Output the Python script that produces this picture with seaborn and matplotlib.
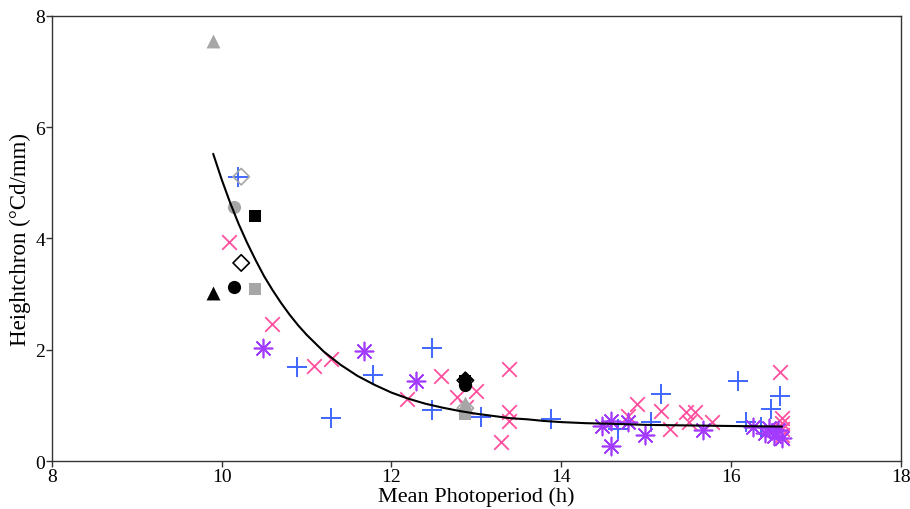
import matplotlib
matplotlib.use('Agg')
import matplotlib.pyplot as plt
import seaborn as sns

# Blue plus points
plus_x = [10.19, 10.89, 11.29, 11.78, 12.48, 12.48, 13.06, 13.88, 14.67, 15.06, 15.17,
          16.08, 16.58, 16.47, 16.17, 16.35]
plus_y = [5.11, 1.69, 0.77, 1.55, 2.03, 0.92, 0.79, 0.76, 0.58, 0.70, 1.20,
          1.43, 1.17, 0.94, 0.70, 0.61]

# Pink cross points
cross_x = [10.09, 10.59, 11.09, 11.29, 12.18, 12.58, 12.77, 12.99, 12.88, 13.38, 13.38, 13.38,
           13.29, 14.89, 14.79, 15.18, 15.28, 15.47, 15.58, 15.50, 15.77,
           16.58, 16.60, 16.60, 16.60, 16.60, 16.60]
cross_y = [3.94, 2.46, 1.71, 1.83, 1.12, 1.53, 1.15, 1.26, 0.97, 1.65, 0.88, 0.72,
           0.34, 1.03, 0.81, 0.90, 0.58, 0.88, 0.88, 0.70, 0.70,
           1.60, 0.78, 0.68, 0.57, 0.47, 0.42]

# Purple asterisk points
star_x = [10.49, 11.68, 12.29, 14.48, 14.58, 14.58, 14.79, 14.99, 15.67,
          16.26, 16.40, 16.45, 16.50, 16.55, 16.60]
star_y = [2.03, 1.98, 1.44, 0.63, 0.72, 0.27, 0.70, 0.46, 0.55,
          0.61, 0.50, 0.60, 0.45, 0.55, 0.42]

# Black markers
blk_tri_x = [9.90, 12.87]
blk_tri_y = [3.02, 1.50]
blk_circ_x = [10.14, 12.87]
blk_circ_y = [3.13, 1.37]
blk_sq_x = [10.39, 12.87]
blk_sq_y = [4.41, 1.43]
blk_dia_x = [12.87]
blk_dia_y = [1.47]
blk_open_x = [10.23, 12.87]
blk_open_y = [3.56, 1.45]

# Grey markers
gry_tri_x = [9.90, 12.87]
gry_tri_y = [7.55, 1.05]
gry_circ_x = [10.14, 12.87]
gry_circ_y = [4.57, 0.88]
gry_sq_x = [10.39, 12.87]
gry_sq_y = [3.09, 0.85]
gry_open_x = [10.23, 12.87]
gry_open_y = [5.11, 0.95]

# Fitted curve
curve_x = [9.9, 10.0, 10.1, 10.2, 10.3, 10.4, 10.5, 10.6, 10.7, 10.8, 10.9, 11.0,
           11.2, 11.4, 11.6, 11.8, 12.0, 12.2, 12.4, 12.6, 12.8, 13.0, 13.2, 13.4,
           13.6, 13.8, 14.0, 14.3, 14.6, 15.0, 15.5, 16.0, 16.6]
curve_y = [5.52, 5.06, 4.64, 4.26, 3.92, 3.61, 3.32, 3.07, 2.84, 2.63, 2.44, 2.27,
           1.97, 1.73, 1.53, 1.37, 1.23, 1.12, 1.03, 0.96, 0.90, 0.85, 0.81, 0.77,
           0.75, 0.72, 0.70, 0.68, 0.67, 0.65, 0.64, 0.63, 0.62]

sns.set_style('ticks')
plt.rcParams['font.family'] = ['Liberation Serif', 'DejaVu Serif']

fig = plt.figure(figsize=(9.1, 5.1), dpi=100)
ax = fig.add_axes([0.057, 0.094, 0.933, 0.873])

blue = '#3F66FF'
pink = '#FF4F9E'
purple = '#A23BFF'
grey = '#A6A6A6'

sns.lineplot(x=curve_x, y=curve_y, color='black', linewidth=1.5, ax=ax)

sns.scatterplot(x=plus_x, y=plus_y, marker='+', s=190, color=blue, linewidth=1.4, ax=ax)
sns.scatterplot(x=cross_x, y=cross_y, marker='x', s=110, color=pink, linewidth=1.3, ax=ax)
sns.scatterplot(x=star_x, y=star_y, marker=(8, 2, 0), s=170, color=purple, linewidth=1.2, ax=ax)

sns.scatterplot(x=gry_tri_x, y=gry_tri_y, marker='^', s=100, color=grey, linewidth=0, ax=ax)
sns.scatterplot(x=gry_circ_x, y=gry_circ_y, marker='o', s=90, color=grey, linewidth=0, ax=ax)
sns.scatterplot(x=gry_sq_x, y=gry_sq_y, marker='s', s=80, color=grey, linewidth=0, ax=ax)
sns.scatterplot(x=gry_open_x, y=gry_open_y, marker='D', s=70, facecolor='none',
                edgecolor=grey, linewidth=1.2, ax=ax)

sns.scatterplot(x=blk_tri_x, y=blk_tri_y, marker='^', s=100, color='black', linewidth=0, ax=ax)
sns.scatterplot(x=blk_circ_x, y=blk_circ_y, marker='o', s=90, color='black', linewidth=0, ax=ax)
sns.scatterplot(x=blk_sq_x, y=blk_sq_y, marker='s', s=80, color='black', linewidth=0, ax=ax)
sns.scatterplot(x=blk_dia_x, y=blk_dia_y, marker='D', s=60, color='black', linewidth=0, ax=ax)
sns.scatterplot(x=blk_open_x, y=blk_open_y, marker='D', s=70, facecolor='none',
                edgecolor='black', linewidth=1.2, ax=ax)

ax.set_xlim(8, 18)
ax.set_ylim(0, 8)
ax.set_xticks([8, 10, 12, 14, 16, 18])
ax.set_yticks([0, 2, 4, 6, 8])
ax.tick_params(axis='both', labelsize=14, labelcolor='black', colors='#333333',
               direction='out', length=4, width=1, pad=1)
ax.set_xlabel('Mean Photoperiod (h)', fontsize=16, labelpad=1, color='black')
ax.set_ylabel('Heightchron (°Cd/mm)', fontsize=16.5, labelpad=3, color='black')
for sp in ax.spines.values():
    sp.set_linewidth(1)
    sp.set_color('#333333')

fig.savefig('out.png', dpi=100)
